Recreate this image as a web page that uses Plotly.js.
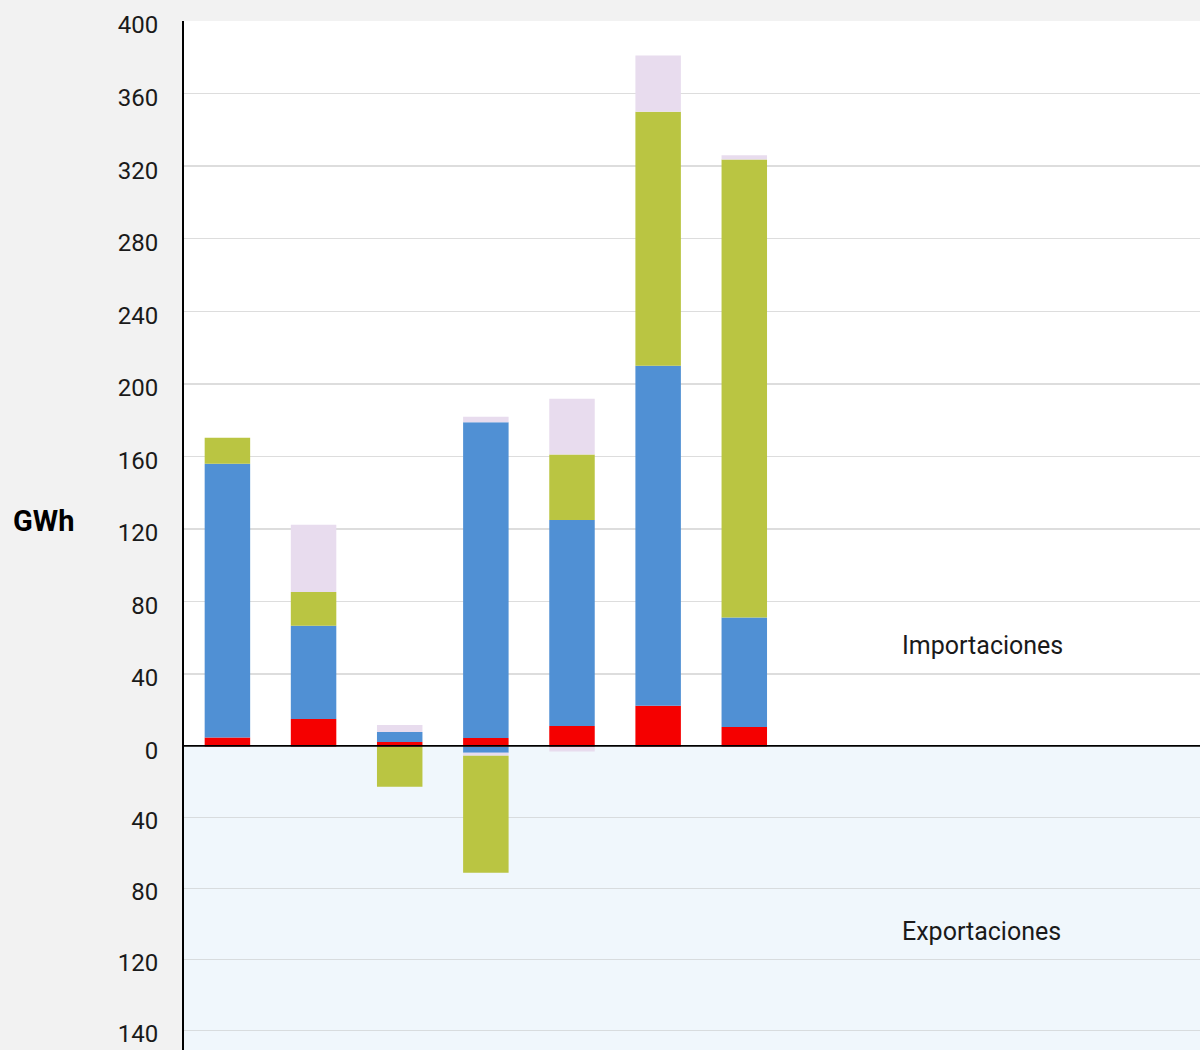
<!DOCTYPE html>
<html>
<head>
<meta charset="utf-8">
<script src="https://cdn.plot.ly/plotly-3.0.1.min.js"></script>
<style>
  html, body { margin: 0; padding: 0; background: #f2f2f2; }
  #chart { width: 1200px; height: 1050px; }
</style>
</head>
<body>
<div id="chart"></div>
<script>
// Categories (12 months; only the first seven carry data)
const meses = ['Ene', 'Feb', 'Mar', 'Abr', 'May', 'Jun', 'Jul', 'Ago', 'Sep', 'Oct', 'Nov', 'Dic'];
const mesesDatos = ['Ene', 'Feb', 'Mar', 'Abr', 'May', 'Jun', 'Jul'];

// Imports (GWh, positive)
const impRojo  = [5.0, 15.3, 2.6, 4.8, 11.4, 22.5, 10.9];
const impAzul  = [151, 51.3, 5.5, 174, 113.6, 187.5, 60.3];
const impVerde = [14.3, 18.7, 0, 0, 36, 140, 252.5];
const impLila  = [0, 37, 3.9, 3.1, 30.8, 31, 2.3];

// Exports (GWh, negative)
const expAzul  = [0, 0, 0, -3.4, 0, 0, 0];
const expLila  = [0, 0, 0, -1.7, -2.8, 0, 0];
const expVerde = [0, 0, -22.6, -66, 0, 0, 0];

// Axis ticks
const ticksPos = [0, 40, 80, 120, 160, 200, 240, 280, 320, 360, 400];
const ticksNegVals = [-40, -80, -120, -160];
const ticksNegText = ['40', '80', '120', '140'];

const colores = { rojo: '#f50000', azul: '#5090d4', verde: '#bac542', lila: '#e8dcee' };

function barra(y, color, yaxis) {
  return {
    type: 'bar', x: mesesDatos, y: y, yaxis: yaxis, xaxis: 'x',
    marker: { color: color, line: { width: 0 } },
    showlegend: false, hoverinfo: 'skip'
  };
}

const data = [
  barra(impRojo, colores.rojo, 'y'),
  barra(impAzul, colores.azul, 'y'),
  barra(impVerde, colores.verde, 'y'),
  barra(impLila, colores.lila, 'y'),
  barra(expAzul, colores.azul, 'y2'),
  barra(expLila, colores.lila, 'y2'),
  barra(expVerde, colores.verde, 'y2')
];

const fuente = 'Roboto, "Noto Sans", sans-serif';
const splitY = 0.2948;

const layout = {
  width: 1200, height: 1050,
  margin: { l: 184, r: 0, t: 21, b: 0, pad: 0 },
  paper_bgcolor: '#f2f2f2',
  plot_bgcolor: '#ffffff',
  barmode: 'relative',
  bargap: 0.472,
  font: { family: fuente, color: '#1a1a1a' },
  xaxis: {
    type: 'category', categoryorder: 'array', categoryarray: meses,
    range: [-0.504, 11.29], showticklabels: false, showgrid: false,
    showline: false, zeroline: false, ticks: '', anchor: 'y2', fixedrange: true
  },
  yaxis: {
    domain: [splitY, 1], range: [0, 400], anchor: 'x',
    tickvals: ticksPos, ticktext: ticksPos.map(String),
    showgrid: true, gridcolor: '#dddddd', gridwidth: 1.5,
    zeroline: false, showline: true, linecolor: '#000000', linewidth: 2,
    ticks: '', ticklabelstandoff: 19, ticklabelshift: 4,
    tickfont: { family: fuente, size: 24, color: '#1a1a1a' }
  },
  yaxis2: {
    domain: [0, splitY], range: [-171.1, 0], anchor: 'x',
    tickvals: ticksNegVals, ticktext: ticksNegText,
    showgrid: true, gridcolor: '#d8dcde', gridwidth: 1.5,
    zeroline: false, showline: true, linecolor: '#000000', linewidth: 2,
    ticks: '', ticklabelstandoff: 19, ticklabelshift: 3,
    tickfont: { family: fuente, size: 24, color: '#1a1a1a' }
  },
  shapes: [
    { type: 'rect', xref: 'paper', yref: 'y2', x0: 0, x1: 1, y0: -171.1, y1: 0,
      fillcolor: '#f0f7fc', line: { width: 0 }, layer: 'below' },
    { type: 'line', xref: 'paper', yref: 'y', x0: 0, x1: 1, y0: 0, y1: 0,
      line: { color: '#000000', width: 3.5 }, layer: 'above' }
  ],
  annotations: [
    { text: '<b>GWh</b>', xref: 'paper', yref: 'paper', x: -0.1378, y: 0.514,
      xanchor: 'center', yanchor: 'middle', showarrow: false,
      font: { family: fuente, size: 29, color: '#000000' } },
    { text: 'Importaciones', xref: 'paper', yref: 'y', x: 0.7047, y: 55.6,
      xanchor: 'left', yanchor: 'middle', showarrow: false,
      font: { family: fuente, size: 25, color: '#1a1a1a' } },
    { text: 'Exportaciones', xref: 'paper', yref: 'y2', x: 0.7047, y: -104,
      xanchor: 'left', yanchor: 'middle', showarrow: false,
      font: { family: fuente, size: 25, color: '#1a1a1a' } }
  ]
};

Plotly.newPlot('chart', data, layout, { displayModeBar: false, staticPlot: true });
</script>
</body>
</html>
